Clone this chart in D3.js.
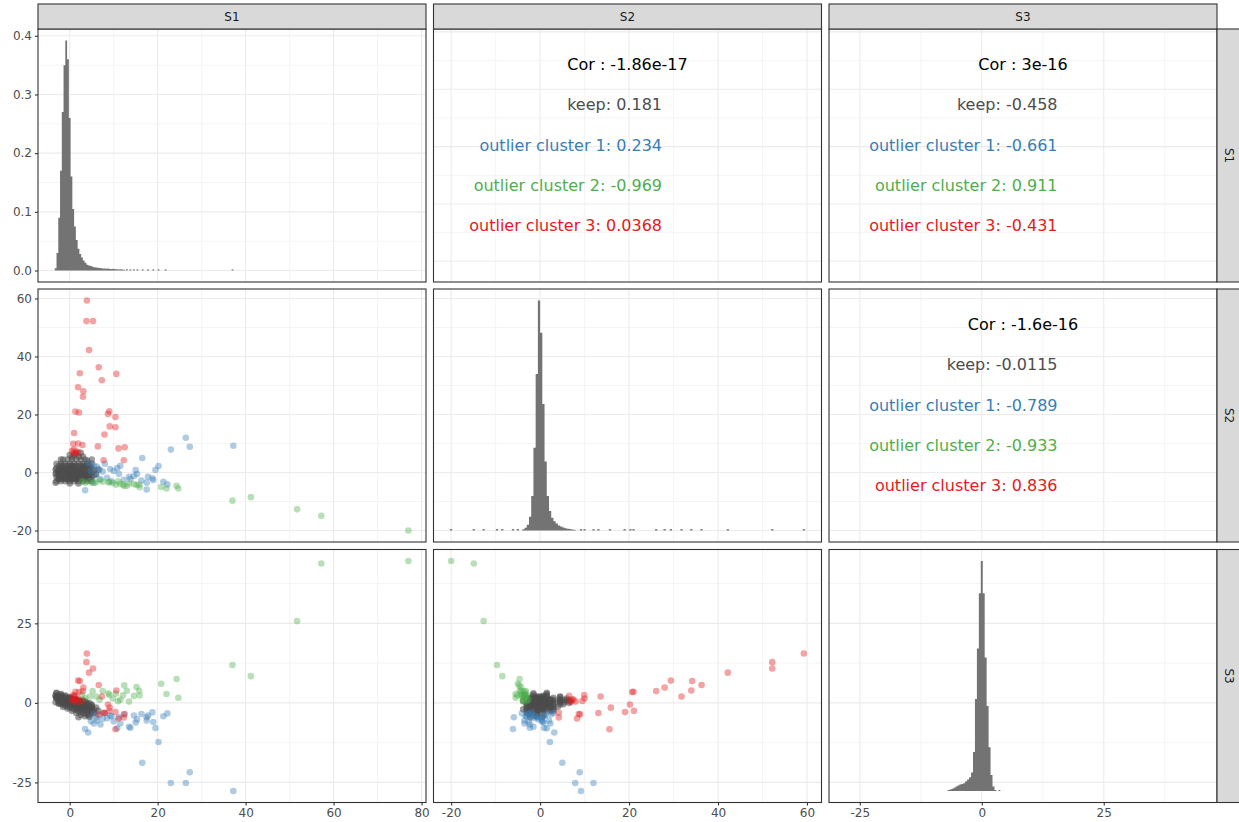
<!DOCTYPE html>
<html>
<head>
<meta charset="utf-8">
<script src="https://cdn.jsdelivr.net/npm/d3@7"></script>
<style>
  body { margin: 0; background: #fff; }
  text { font-family: "DejaVu Sans", sans-serif; }
</style>
</head>
<body>
<script>
// variables and groups
const vars = ['S1', 'S2', 'S3']
const groupNames = ['keep', 'outlier cluster 1', 'outlier cluster 2', 'outlier cluster 3']
const groupColors = ['#4D4D4D', '#377EB8', '#4DAF4A', '#E41A1C']
const groupAlpha = [0.55, 0.4, 0.4, 0.4]

// points as [S1, S2, S3]
const keep = [
  [-3.0,-3.0,1.3],[-3.0,-1.5,3.0],[-3.0,0.0,2.0],[-3.0,1.5,3.2],[-3.0,3.0,1.6],
  [-2.0,-3.0,0.6],[-2.0,-1.5,2.6],[-2.0,0.0,1.4],[-2.0,1.5,2.8],[-2.0,3.0,1.0],
  [-1.0,-3.0,0.1],[-1.0,-1.5,2.1],[-1.0,0.0,1.0],[-1.0,1.5,2.3],[-1.0,3.0,0.6],
  [0.0,-3.0,-0.4],[0.0,-1.5,1.6],[0.0,0.0,0.5],[0.0,1.5,1.8],[0.0,3.0,0.2],
  [1.0,-3.0,-1.0],[1.0,-1.5,1.0],[1.0,0.0,0.0],[1.0,1.5,1.3],[1.0,3.0,-0.3],
  [2.0,-3.0,-1.5],[2.0,-1.5,0.5],[2.0,0.0,-0.6],[2.0,1.5,0.7],[2.0,3.0,-0.9],
  [3.0,-3.0,-2.1],[3.0,-1.5,-0.1],[3.0,0.0,-1.1],[3.0,1.5,0.2],[3.0,3.0,-1.4],
  [4.0,-3.0,-2.6],[4.0,-1.5,-0.6],[4.0,0.0,-1.7],[4.0,1.5,-0.4],[4.0,3.0,-2.0],
  [5.0,-3.0,-3.2],[5.0,-1.5,-1.2],[5.0,0.0,-2.2],[5.0,1.5,-0.9],[5.0,3.0,-2.5],
  [-0.5,4.5,1.2],[0.5,4.5,0.6],[1.5,4.5,0.9],[2.5,4.5,0.1],[3.5,4.5,0.4],
  [1.0,6.0,0.8],[2.0,5.5,0.3],[0.0,6.0,1.4],[1.5,6.5,0.0],[3.0,5.5,0.9],
  [2.5,6.8,0.5],[0.5,5.2,-0.4],[-1.5,4.5,1.8],
  [0.5,-2.0,-2.5],[1.5,-0.5,-3.2],[2.5,0.8,-3.8],[3.5,-0.8,-4.2],[-1.5,0.8,-1.3],
  [-2.5,-0.8,-0.3],[4.5,0.5,-4.4],[5.5,-1.0,-3.0],[2.0,-2.2,-4.5],[-0.5,-0.5,-1.8],
  [0.5,0.8,0.5],[-0.5,-0.8,1.2],[1.5,0.0,0.3],[-1.5,0.5,1.6],[0.0,-0.8,0.0],
  [1.0,0.7,0.4],[2.5,-0.7,-0.8],[-2.5,0.7,2.2],[0.5,2.2,1.0],[-0.5,-2.2,0.8],
  [1.5,-2.2,-0.4],[3.5,2.2,-1.0],[-2.5,-2.2,1.5],[4.5,-2.2,-1.8],[5.5,0.8,-2.0],
  [-3.2,-0.5,2.0],[-3.2,1.0,0.2],[6.0,-0.5,-1.5],[6.5,1.0,-2.5],[-3.2,-3.5,2.4],
  [2.0,-3.8,-2.0],[0.0,-3.8,0.6],[-2.0,4.5,2.0],[4.0,4.0,-1.2],[5.0,4.5,-0.5],
  [-2.5,-2.25,1.35],[-2.5,-0.75,0.0],[-2.5,0.75,2.02],[-2.5,2.25,0.67],
  [-1.5,-2.25,0.95],[-1.5,-0.75,-0.56],[-1.5,0.75,1.71],[-1.5,2.25,0.2],
  [-0.5,-2.25,0.56],[-0.5,-0.75,-1.12],[-0.5,0.75,1.4],[-0.5,2.25,-0.28],
  [0.5,-2.25,0.16],[0.5,-0.75,-1.68],[0.5,0.75,1.08],[0.5,2.25,-0.76],
  [1.5,-2.25,-0.23],[1.5,-0.75,-2.24],[1.5,0.75,0.77],[1.5,2.25,-1.24],
  [2.5,-2.25,-0.63],[2.5,-0.75,-2.8],[2.5,0.75,0.46],[2.5,2.25,-1.71],
  [3.5,-2.25,-1.02],[3.5,-0.75,-3.36],[3.5,0.75,0.15],[3.5,2.25,-2.19],
  [4.5,-2.25,-1.42],[4.5,-0.75,-3.92],[4.5,0.75,-0.17],[4.5,2.25,-2.67],
  [-2.0,-2.25,-0.28],[-2.0,-0.75,1.87],[-2.0,0.75,0.44],[-2.0,2.25,1.15],
  [-1.0,-2.25,-0.84],[-1.0,-0.75,1.55],[-1.0,0.75,-0.04],[-1.0,2.25,0.76],
  [0.0,-2.25,-1.4],[0.0,-0.75,1.24],[0.0,0.75,-0.52],[0.0,2.25,0.36],
  [1.0,-2.25,-1.96],[1.0,-0.75,0.93],[1.0,0.75,-0.98],[1.0,2.25,-0.04],
  [2.0,-2.25,-2.52],[2.0,-0.75,0.62],[2.0,0.75,-1.48],[2.0,2.25,-0.43],
  [3.0,-2.25,-3.08],[3.0,-0.75,0.3],[3.0,0.75,-1.95],[3.0,2.25,-0.83],
  [4.0,-2.25,-3.64],[4.0,-0.75,-0.01],[4.0,0.75,-2.43],[4.0,2.25,-1.22]
]
const cluster1 = [
  [37.2,9.2,-27.7],[27.3,8.9,-21.8],[23.0,7.9,-25.2],[26.4,12.0,-25.2],[16.5,5.0,-18.8],
  [20.2,2.2,-12.3],[19.5,0.9,-7.9],[21.3,-3.2,-4.2],[22.2,-4.1,-3.3],[18.8,-2.0,-3.0],
  [17.5,-3.5,-5.5],[17.8,-1.5,-4.0],[16.3,-2.8,-3.5],[17.5,-5.9,-4.5],[19.0,-2.6,-6.0],
  [15.0,0.8,-6.2],[15.3,-0.5,-5.2],[14.6,-1.2,-4.0],[13.5,-1.5,-7.5],[13.8,-2.3,-7.8],
  [11.5,2.3,-6.5],[10.8,1.5,-8.0],[11.2,-0.5,-4.5],[10.0,0.5,-5.8],[9.2,1.2,-4.0],
  [8.5,-1.8,-4.8],[7.5,0.3,-5.0],[6.8,1.0,-3.8],[6.0,-0.8,-4.6],[5.5,2.5,-3.6],
  [4.8,0.5,-5.8],[8.0,3.0,-3.2],[12.3,-2.5,-3.6],[9.5,-3.0,-4.2],[3.5,-6.1,-8.2],
  [5.5,-3.5,-6.5],[7.0,-2.3,-6.8],[4.2,3.2,-9.3],[6.2,2.0,-5.5]
]
const cluster2 = [
  [77.0,-20.0,44.6],[57.2,-14.9,43.8],[51.7,-12.7,25.7],[37.0,-9.7,11.9],[41.2,-8.5,8.4],
  [24.3,-4.6,7.5],[24.7,-5.5,1.6],[20.8,-5.0,6.0],[22.0,-5.5,2.8],[15.2,-4.3,5.0],
  [15.8,-4.2,3.8],[15.9,-5.1,2.3],[14.6,-4.0,2.2],[12.4,-4.7,5.5],[13.0,-4.6,3.8],
  [12.1,-4.2,2.4],[13.5,-3.8,0.4],[11.5,-3.9,1.0],[10.5,-4.2,2.9],[9.0,-3.3,2.5],
  [8.8,-3.4,3.0],[7.5,-3.2,3.7],[6.0,-3.4,2.0],[5.2,-3.6,3.7],[4.6,-3.0,2.0],
  [3.5,-3.5,1.5],[2.8,-3.0,2.6],[9.8,-3.6,1.4],[11.0,-3.0,0.5],[6.8,-2.6,1.0]
]
const cluster3 = [
  [3.9,59.3,15.5],[3.8,52.2,12.8],[5.3,52.2,10.8],[4.4,42.2,9.5],[6.6,36.3,5.6],
  [2.3,34.2,6.9],[10.6,34.0,3.9],[7.3,31.8,2.0],[1.9,29.4,7.0],[3.1,28.0,4.8],
  [3.0,26.1,3.7],[1.3,21.0,3.5],[2.1,20.7,3.4],[9.0,21.1,-2.5],[8.7,20.2,-0.5],
  [10.4,19.1,-2.9],[9.1,15.9,-1.5],[10.4,15.6,-8.3],[7.9,13.1,-3.2],[1.0,13.6,2.0],
  [6.4,9.0,-3.6],[11.1,8.3,-4.9],[12.5,8.7,-3.5],[0.8,9.9,2.5],[1.9,10.0,1.4],
  [2.9,9.5,0.6],[7.7,4.2,-3.1],[12.3,4.2,-4.6],[0.5,7.5,1.0],[1.0,8.0,0.4],
  [1.5,7.2,1.2],[0.8,6.8,0.8],[1.2,6.5,2.2],[2.0,7.0,0.3]
]
const groupPoints = [keep, cluster1, cluster2, cluster3]

// diagonal histograms: S1 in density units, S2 and S3 relative to their peak
const s1BinStart = -3.4
const s1BinWidth = 0.4
const s1Density = [0.004, 0.03, 0.09, 0.17, 0.27, 0.35, 0.392, 0.36, 0.26, 0.16,
  0.105, 0.075, 0.052, 0.037, 0.028, 0.022, 0.017, 0.013, 0.010, 0.0085,
  0.0075, 0.0065, 0.0055, 0.005, 0.0045, 0.0042, 0.004, 0.0036, 0.0034, 0.003,
  0.0032, 0.0026, 0.0024, 0.0028, 0.002, 0.0022, 0.0018, 0.002, 0.0015, 0.0012]
const s1Sparse = [[13.0,0.002],[13.8,0.002],[14.6,0.002],[15.4,0.002],[16.6,0.002],
  [17.8,0.002],[19.0,0.002],[20.2,0.002],[21.8,0.002],[37.0,0.002]]

const s2BinStart = -4.0
const s2BinWidth = 0.5
const s2Rel = [0.005, 0.012, 0.025, 0.06, 0.15, 0.36, 0.68, 1.0, 0.86, 0.55,
  0.3, 0.15, 0.085, 0.055, 0.04, 0.03, 0.022, 0.017, 0.013, 0.01,
  0.008, 0.006, 0.004, 0.003]
const s2Sparse = [[-20.0,0.006],[-14.9,0.006],[-12.7,0.006],[-9.7,0.006],[-8.5,0.006],
  [-6.1,0.006],[-5.0,0.006],[9.2,0.006],[10.0,0.006],[12.0,0.006],[13.1,0.006],
  [15.7,0.006],[19.0,0.006],[20.3,0.006],[21.0,0.006],[26.1,0.006],[28.0,0.006],
  [29.4,0.006],[31.8,0.006],[34.0,0.006],[36.3,0.006],[42.2,0.006],[52.2,0.006],[59.3,0.006]]

const s3BinStart = -7.0
const s3BinWidth = 0.4
const s3Rel = [0.004, 0.006, 0.01, 0.014, 0.02, 0.024, 0.028, 0.03, 0.034, 0.042,
  0.05, 0.06, 0.08, 0.17, 0.40, 0.62, 0.86, 1.0, 0.86, 0.58,
  0.37, 0.19, 0.07, 0.02, 0.004, 0, 0.004]
const s3Sparse = []

// correlation panels
const corPanels = [[0, 1], [0, 2], [1, 2]]
const corValues = ['-1.86e-17', '3e-16', '-1.6e-16']
const groupCor = [
  ['0.181', '0.234', '-0.969', '0.0368'],
  ['-0.458', '-0.661', '0.911', '-0.431'],
  ['-0.0115', '-0.789', '-0.933', '0.836']
]

// tick labels
const varTicks = [[0, 20, 40, 60, 80], [-20, 0, 20, 40, 60], [-25, 0, 25]]
const densityTicks = [0, 0.1, 0.2, 0.3, 0.4]

// layout
const W = 1239, H = 822
const colX = [38, 433.5, 829]
const rowY = [29, 289, 549.5]
const pw = 388, ph = 253
const stripTop = 4, stripH = 25

let svg = d3.select('body').append('svg')
    .attr('width', W)
    .attr('height', H)

let allPts = [].concat(...groupPoints)
let lims = vars.map((v, k) => {
    let e = d3.extent(allPts, d => d[k])
    let pad = (e[1] - e[0]) * 0.05
    return [e[0] - pad, e[1] + pad]
})
let xs = lims.map((l, j) => d3.scaleLinear().domain(l).range([colX[j], colX[j] + pw]))
let ys = lims.map((l, i) => d3.scaleLinear().domain(l).range([rowY[i] + ph, rowY[i]]))
let dMax = d3.max(s1Density)
let yDens = d3.scaleLinear().domain([-0.05 * dMax, 1.05 * dMax]).range([rowY[0] + ph, rowY[0]])

function minors(ticks, dom) {
    let step = ticks[1] - ticks[0]
    let m = []
    for (let t = ticks[0] - step / 2; t <= ticks[ticks.length - 1] + step / 2 + 1e-9; t += step) m.push(t)
    return m.filter(t => t >= dom[0] && t <= dom[1])
}

// main bins as step points, sparse bins as single bars
function histData(start, width, vals, sparse) {
    let main = vals.map((v, n) => ({ x: start + n * width, v: v }))
    main.push({ x: start + vals.length * width, v: vals[vals.length - 1] })
    let bars = sparse.map(s => ({ x0: s[0] - width / 2, x1: s[0] + width / 2, v: s[1] }))
    return { main: main, bars: bars, vmax: d3.max(vals) }
}
let hists = [
    histData(s1BinStart, s1BinWidth, s1Density, s1Sparse),
    histData(s2BinStart, s2BinWidth, s2Rel, s2Sparse),
    histData(s3BinStart, s3BinWidth, s3Rel, s3Sparse)
]

let defs = svg.append('defs')

for (let i = 0; i < 3; i++) {
    for (let j = 0; j < 3; j++) {
        let px = colX[j], py = rowY[i]
        let id = 'clip' + i + j
        defs.append('clipPath').attr('id', id)
            .append('rect').attr('x', px).attr('y', py).attr('width', pw).attr('height', ph)

        let g = svg.append('g')
        g.append('rect').attr('x', px).attr('y', py).attr('width', pw).attr('height', ph).attr('fill', '#fff')

        let xsc = xs[j]
        let ysc = (i === 0 && j === 0) ? yDens : ys[i]
        let yt = (i === 0 && j === 0) ? densityTicks : varTicks[i]

        let grid = g.append('g').attr('clip-path', 'url(#' + id + ')')
        let xMinor = minors(varTicks[j], xsc.domain())
        let yMinor = minors(yt, ysc.domain())
        grid.selectAll(null).data(yMinor).join('line')
            .attr('x1', px).attr('x2', px + pw)
            .attr('y1', d => ysc(d)).attr('y2', d => ysc(d))
            .attr('stroke', '#ebebeb').attr('stroke-width', 0.55)
        grid.selectAll(null).data(xMinor).join('line')
            .attr('y1', py).attr('y2', py + ph)
            .attr('x1', d => xsc(d)).attr('x2', d => xsc(d))
            .attr('stroke', '#ebebeb').attr('stroke-width', 0.55)
        grid.selectAll(null).data(yt.filter(t => t >= ysc.domain()[0] && t <= ysc.domain()[1])).join('line')
            .attr('x1', px).attr('x2', px + pw)
            .attr('y1', d => ysc(d)).attr('y2', d => ysc(d))
            .attr('stroke', '#ebebeb').attr('stroke-width', 1.1)
        grid.selectAll(null).data(varTicks[j].filter(t => t >= xsc.domain()[0] && t <= xsc.domain()[1])).join('line')
            .attr('y1', py).attr('y2', py + ph)
            .attr('x1', d => xsc(d)).attr('x2', d => xsc(d))
            .attr('stroke', '#ebebeb').attr('stroke-width', 1.1)

        let marks = g.append('g').attr('clip-path', 'url(#' + id + ')')

        if (i === j) {
            // histogram on the diagonal
            let h = hists[i]
            let top, base
            if (i === 0) {
                top = v => yDens(v)
                base = yDens(0)
            } else {
                let lo = d3.min(allPts, d => d[i]), hi = d3.max(allPts, d => d[i])
                top = v => ys[i](lo + v / h.vmax * (hi - lo))
                base = ys[i](lo)
            }
            let area = d3.area()
                .x(d => xsc(d.x))
                .y0(base)
                .y1(d => top(d.v))
                .curve(d3.curveStepAfter)
            marks.append('path').datum(h.main).attr('d', area).attr('fill', '#737373')
            marks.selectAll(null).data(h.bars).join('rect')
                .attr('x', d => xsc(d.x0))
                .attr('width', d => Math.max(1, xsc(d.x1) - xsc(d.x0)))
                .attr('y', d => Math.min(top(d.v), base - 1))
                .attr('height', d => Math.max(1, base - top(d.v)))
                .attr('fill', '#737373')
        } else if (i > j) {
            // scatter
            groupPoints.forEach((pts, gi) => {
                marks.selectAll(null).data(pts).join('circle')
                    .attr('cx', d => xsc(d[j]))
                    .attr('cy', d => ysc(d[i]))
                    .attr('r', 3.3)
                    .attr('fill', groupColors[gi])
                    .attr('fill-opacity', groupAlpha[gi])
            })
        } else {
            // correlation text
            let k = corPanels.findIndex(p => p[0] === i && p[1] === j)
            let cx = px + pw / 2
            g.append('text')
                .attr('x', cx).attr('y', py + 35.5)
                .attr('dy', '0.36em')
                .attr('text-anchor', 'middle')
                .attr('font-size', 16)
                .attr('fill', '#000')
                .text('Cor : ' + corValues[k])
            g.selectAll(null).data(groupNames).join('text')
                .attr('x', cx + 34.5)
                .attr('y', (d, n) => py + 35.5 + (n + 1) * 40.2)
                .attr('dy', '0.36em')
                .attr('text-anchor', 'end')
                .attr('font-size', 16)
                .attr('fill', (d, n) => groupColors[n])
                .text((d, n) => d + ': ' + groupCor[k][n])
        }

        g.append('rect').attr('x', px).attr('y', py).attr('width', pw).attr('height', ph)
            .attr('fill', 'none').attr('stroke', '#333').attr('stroke-width', 1.1)

        // axes
        if (j === 0) {
            let fmt = (i === 0) ? (d => d.toFixed(1)) : (d => String(d))
            let ax = svg.append('g').attr('transform', 'translate(' + px + ',0)')
                .call(d3.axisLeft(ysc).tickValues(yt).tickSize(3).tickPadding(3).tickFormat(fmt))
            styleAxis(ax)
        }
        if (i === 2) {
            let ax = svg.append('g').attr('transform', 'translate(0,' + (py + ph) + ')')
                .call(d3.axisBottom(xsc).tickValues(varTicks[j]).tickSize(3).tickPadding(3).tickFormat(d => String(d)))
            styleAxis(ax)
        }
    }
}

function styleAxis(ax) {
    ax.select('.domain').remove()
    ax.selectAll('.tick line').attr('stroke', '#333').attr('stroke-width', 1.1)
    ax.selectAll('.tick text').attr('fill', '#4d4d4d').attr('font-size', 12)
        .attr('font-family', '"DejaVu Sans", sans-serif')
}

// strips
vars.forEach((v, j) => {
    svg.append('rect').attr('x', colX[j]).attr('y', stripTop).attr('width', pw).attr('height', stripH)
        .attr('fill', '#d9d9d9').attr('stroke', '#333').attr('stroke-width', 1.1)
    svg.append('text').attr('x', colX[j] + pw / 2).attr('y', stripTop + stripH / 2)
        .attr('dy', '0.36em').attr('text-anchor', 'middle').attr('font-size', 12)
        .attr('fill', '#1a1a1a').text(v)
})
vars.forEach((v, i) => {
    let sx = colX[2] + pw
    svg.append('rect').attr('x', sx).attr('y', rowY[i]).attr('width', stripH).attr('height', ph)
        .attr('fill', '#d9d9d9').attr('stroke', '#333').attr('stroke-width', 1.1)
    svg.append('text')
        .attr('transform', 'translate(' + (sx + stripH / 2) + ',' + (rowY[i] + ph / 2) + ') rotate(90)')
        .attr('dy', '0.36em').attr('text-anchor', 'middle').attr('font-size', 12)
        .attr('fill', '#1a1a1a').text(v)
})
</script>
</body>
</html>
